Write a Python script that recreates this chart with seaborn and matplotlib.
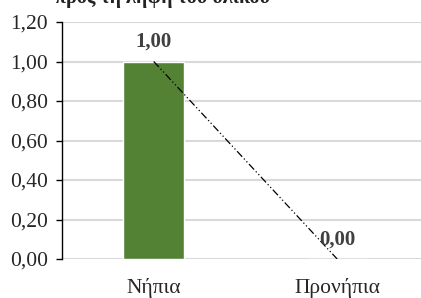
import numpy as np
import pandas as pd
import seaborn as sns
import matplotlib
matplotlib.use("Agg")
import matplotlib.pyplot as plt
from matplotlib.ticker import FuncFormatter

# Chart data
categories = ["Νήπια", "Προνήπια"]
values = [1.00, 0.00]
y_ticks = [0.0, 0.2, 0.4, 0.6, 0.8, 1.0, 1.2]
title = "προς τη λήψη του υλικού"

bar_color = "#548235"
label_color = "#404040"

sns.set_style("white")
plt.rcParams["font.family"] = ["Liberation Serif", "DejaVu Serif"]

df = pd.DataFrame({"group": categories, "value": values})

fig = plt.figure(figsize=(4.21, 2.98), dpi=100)
ax = fig.add_axes([62 / 421, 1 - 259 / 298, 1 - 62 / 421, (259 - 22) / 298])

sns.barplot(data=df, x="group", y="value", color=bar_color, width=0.33,
            saturation=1, ax=ax, zorder=3)

# linear trend line through the series
xs = np.arange(len(values))
slope, intercept = np.polyfit(xs, values, 1)
ax.plot(xs, slope * xs + intercept, color="black", lw=0.9,
        linestyle=(0, (6, 2, 1, 2, 1, 2)), zorder=4)

# value labels
for i, v in enumerate(values):
    ax.text(i, v + 0.05, f"{v:.2f}".replace(".", ","), ha="center",
            va="bottom", fontsize=15, fontweight="bold", color=label_color,
            zorder=5)

ax.set_xlim(-0.5, 1.457)
ax.set_ylim(0, 1.2)
ax.set_yticks(y_ticks)
ax.yaxis.set_major_formatter(FuncFormatter(lambda v, p: f"{v:.2f}".replace(".", ",")))
ax.yaxis.grid(True, color="#d9d9d9", lw=1.5, zorder=0)
ax.set_axisbelow(True)

ax.set_xlabel("")
ax.set_ylabel("")
for side in ["top", "right", "bottom"]:
    ax.spines[side].set_visible(False)
ax.spines["left"].set_color("black")
ax.spines["left"].set_linewidth(1.0)

ax.tick_params(axis="y", left=True, length=4, width=1, color="black",
               labelsize=15.5, pad=6, labelcolor="#262626")
ax.tick_params(axis="x", bottom=False, labelsize=15.5, pad=10,
               labelcolor="#262626")

# title sits mostly above the visible area, as in the source image
fig.text(55 / 421, 1 - 3.5 / 298, title, ha="left", va="baseline",
         fontsize=14.5, fontweight="bold", color="#222222")

fig.savefig("out.png", dpi=100)
